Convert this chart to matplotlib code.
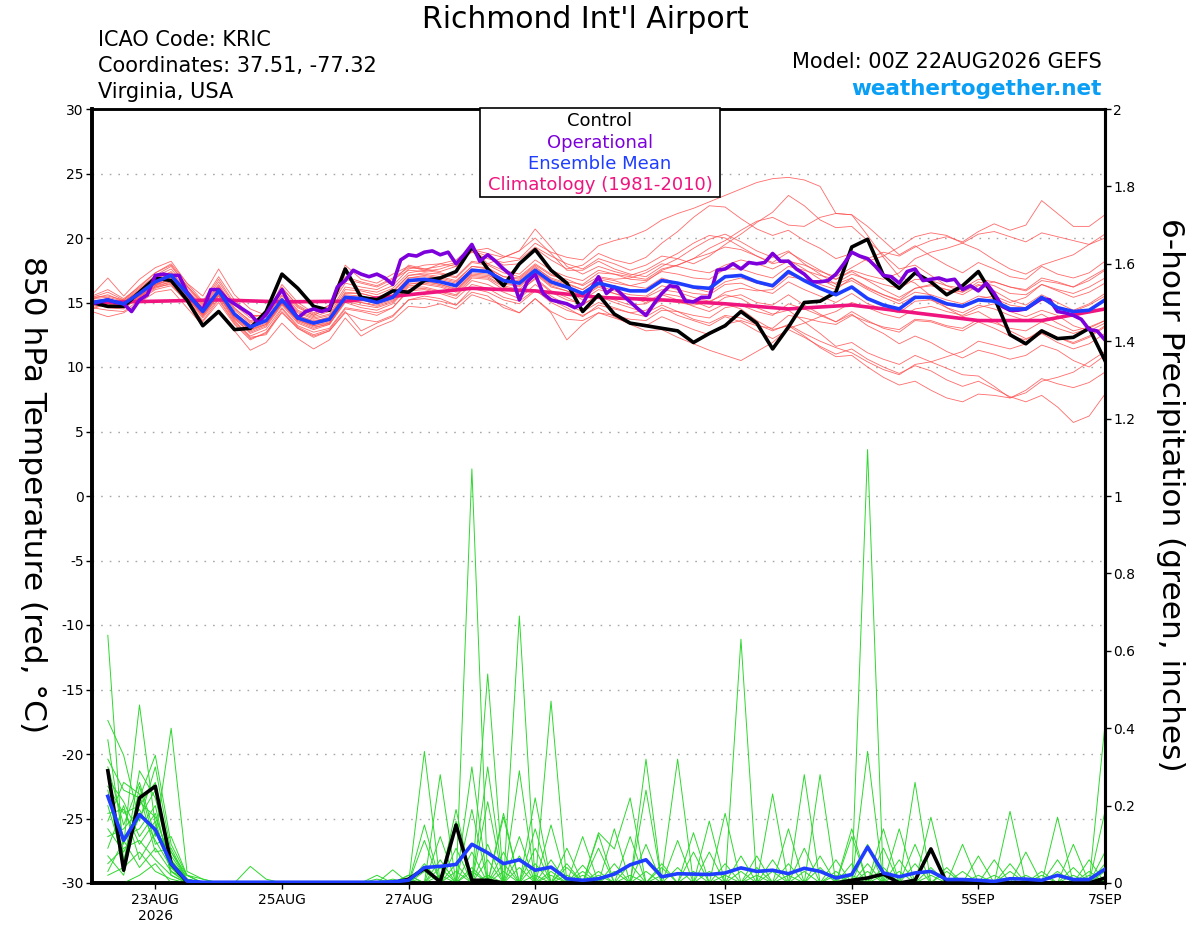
import matplotlib
matplotlib.use("Agg")
import matplotlib.pyplot as plt
from matplotlib.patches import Rectangle

plt.rcParams['font.family'] = ['DejaVu Sans']
plt.rcParams['axes.unicode_minus'] = False

# ---------------------------------------------------------------------------
# Data (temperature: 6-hourly from 22AUG 00Z; precip: 6-hourly from 22AUG 06Z)
# ---------------------------------------------------------------------------
tick_days = [1, 3, 5, 7, 10, 12, 14, 16]
tick_labels = ["23AUG\n2026", "25AUG", "27AUG", "29AUG", "1SEP", "3SEP", "5SEP", "7SEP"]

control_temp = [15.0, 14.7, 14.7, 15.8, 16.9, 16.7, 15.2, 13.2, 14.3, 12.9, 13.0, 14.3, 17.2, 16.1, 14.7, 14.4,
                17.6, 15.4, 15.2, 15.9, 15.8, 16.7, 16.9, 17.4, 19.3, 17.6, 16.3, 18.0, 19.1, 17.5, 16.5, 14.3,
                15.6, 14.1, 13.4, 13.2, 13.0, 12.8, 11.9, 12.6, 13.2, 14.3, 13.4, 11.4, 13.1, 15.0, 15.1, 15.8,
                19.3, 19.9, 17.1, 16.1, 17.3, 16.6, 15.6, 16.3, 17.4, 15.4, 12.5, 11.8, 12.8, 12.2, 12.3, 13.0,
                10.5]

mean_temp = [15.0, 15.2, 14.9, 15.7, 16.6, 17.1, 15.7, 14.3, 15.9, 14.1, 13.1, 13.6, 15.2, 13.8, 13.4, 13.7,
             15.4, 15.3, 15.0, 15.4, 16.7, 16.8, 16.6, 16.3, 17.5, 17.4, 16.7, 16.5, 17.5, 16.6, 16.2, 15.7,
             16.5, 16.2, 15.9, 15.9, 16.7, 16.5, 16.2, 16.1, 17.0, 17.1, 16.6, 16.3, 17.4, 16.7, 16.1, 15.6,
             16.2, 15.3, 14.8, 14.5, 15.4, 15.4, 14.9, 14.7, 15.2, 15.1, 14.5, 14.5, 15.4, 14.6, 14.3, 14.4,
             15.2]

# operational run is 3-hourly
oper_temp = [14.9, 15.05, 15.2, 15.0, 14.9, 14.3, 15.2, 15.6, 17.1, 17.2, 17.1, 17.1, 15.8, 15.05, 14.4, 16.0,
             16.0, 15.3, 14.9, 14.5, 14.1, 13.4, 14.1, 15.05, 16.0, 14.8, 13.8, 14.3, 14.5, 14.3, 14.5, 16.2,
             16.7, 17.5, 17.2, 17.0, 17.2, 16.9, 16.4, 18.3, 18.7, 18.6, 18.9, 19.0, 18.7, 18.9, 18.0, 18.7,
             19.5, 18.2, 18.7, 18.2, 17.6, 17.1, 15.2, 16.6, 17.2, 15.7, 15.2, 15.05, 14.9, 14.6, 14.9, 16.0,
             17.0, 15.7, 16.2, 15.6, 15.05, 14.5, 14.0, 14.9, 15.7, 16.3, 16.2, 15.1, 15.05, 15.4, 15.4, 17.5,
             17.6, 18.0, 17.6, 18.1, 18.0, 18.1, 18.8, 18.2, 18.2, 17.6, 17.2, 16.6, 16.6, 16.7, 17.2, 18.0,
             18.9, 18.6, 18.4, 17.8, 17.1, 17.0, 16.5, 17.4, 17.6, 16.7, 16.8, 16.9, 16.7, 16.8, 16.0, 16.3,
             15.9, 16.5, 15.7, 14.7, 14.4, 14.4, 14.5, 14.9, 15.3, 15.2, 14.3, 14.2, 14.0, 13.7, 12.9, 12.8,
             12.1]

# climatology, daily at 00Z
clim_temp = [15.0, 15.1, 15.2, 15.05, 15.1, 15.6, 16.1, 15.9, 15.4, 15.2, 14.9, 14.5, 14.8, 14.2, 13.6, 13.6, 14.5]

member_temp = [
    [15.3, 15.6, 15.1, 16.0, 17.0, 17.6, 16.2, 14.8, 16.4, 14.6, 13.5, 14.0, 15.8, 14.4, 13.9, 14.3,
     16.2, 16.0, 15.8, 16.3, 17.6, 17.9, 18.0, 17.8, 19.0, 19.2, 18.6, 18.4, 19.6, 18.9, 18.5, 18.3,
     19.4, 19.8, 20.1, 20.6, 21.4, 21.9, 22.3, 22.8, 23.3, 23.8, 24.3, 24.6, 24.7, 24.5, 24.0, 21.9,
     21.8, 20.9, 19.8, 18.7, 19.4, 18.6, 17.9, 17.3, 18.1, 17.6, 17.0, 16.8, 17.8, 17.2, 16.9, 17.3, 18.2],
    [14.6, 14.4, 14.3, 15.2, 16.0, 16.3, 15.1, 13.6, 15.2, 13.4, 12.2, 12.6, 14.5, 13.1, 12.5, 12.9,
     14.5, 14.3, 14.0, 14.6, 16.0, 16.1, 15.8, 15.5, 16.7, 16.4, 15.8, 15.3, 16.4, 15.5, 14.8, 14.3,
     15.0, 14.6, 14.2, 13.9, 14.6, 14.0, 13.6, 13.2, 13.9, 13.5, 12.8, 12.2, 12.9, 12.3, 11.6, 11.0,
     11.4, 10.6, 10.0, 9.5, 10.1, 9.7, 9.0, 8.5, 8.9, 8.3, 7.7, 7.3, 7.8, 6.9, 5.7, 6.2, 7.9],
    [15.0, 14.7, 14.6, 15.4, 16.3, 16.9, 15.4, 13.9, 15.5, 13.8, 12.6, 13.1, 14.8, 13.4, 12.9, 13.3,
     15.0, 14.6, 14.4, 14.9, 16.2, 16.2, 15.9, 15.6, 16.9, 16.8, 16.0, 15.8, 16.9, 15.9, 15.4, 14.8,
     15.6, 15.2, 14.8, 14.9, 15.6, 15.2, 14.7, 14.3, 14.9, 14.5, 13.6, 12.9, 13.2, 12.4, 11.5, 10.8,
     10.9, 10.0, 9.2, 8.6, 8.9, 8.2, 7.6, 7.3, 7.9, 7.8, 7.6, 8.0, 8.9, 9.2, 9.6, 10.4, 11.2],
    [14.8, 15.0, 14.6, 15.3, 16.2, 16.6, 15.3, 14.0, 15.6, 13.7, 12.7, 13.2, 14.9, 13.6, 13.1, 13.3,
     15.1, 15.0, 14.7, 15.1, 16.4, 16.6, 16.4, 16.0, 17.1, 17.0, 16.3, 16.0, 17.2, 16.2, 15.9, 15.2,
     16.0, 15.7, 15.3, 15.4, 16.0, 15.8, 15.4, 15.1, 15.6, 15.3, 14.6, 14.1, 14.4, 13.5, 12.6, 11.6,
     11.9, 11.1, 10.6, 10.2, 10.9, 10.4, 9.9, 9.4, 9.3, 8.5, 7.6, 8.2, 9.1, 8.7, 8.4, 8.8, 9.6],
    [15.4, 15.5, 15.2, 16.1, 17.1, 17.8, 16.3, 14.9, 16.6, 14.8, 13.8, 14.1, 15.9, 14.6, 14.0, 14.6,
     16.5, 16.2, 16.0, 16.6, 17.9, 17.6, 17.4, 17.8, 19.0, 18.6, 17.9, 18.0, 19.2, 18.3, 17.6, 17.9,
     18.8, 18.3, 18.0, 18.5, 19.6, 20.5, 21.6, 22.5, 22.4, 21.5, 20.7, 20.2, 20.6, 19.8, 19.2, 18.4,
     18.8, 18.2, 18.6, 19.3, 20.1, 20.4, 20.2, 19.6, 19.1, 18.3, 17.6, 17.2, 17.9, 18.3, 18.7, 19.5, 20.3],
    [15.1, 15.3, 14.8, 15.6, 16.4, 17.0, 15.6, 14.4, 15.8, 14.2, 13.3, 13.6, 15.3, 14.0, 13.5, 13.9,
     15.8, 15.7, 15.4, 15.9, 17.1, 17.2, 17.0, 16.7, 17.8, 17.6, 17.0, 16.9, 17.9, 17.1, 16.8, 16.3,
     17.0, 16.8, 16.9, 17.3, 18.0, 17.8, 17.5, 17.3, 17.9, 18.3, 18.0, 17.6, 18.2, 17.9, 17.4, 17.0,
     17.7, 18.4, 18.9, 18.6, 19.3, 19.8, 20.1, 19.7, 20.5, 21.1, 20.6, 21.0, 22.9, 21.9, 20.9, 20.9, 21.8],
    [15.2, 15.0, 15.0, 15.9, 16.9, 17.3, 15.9, 14.6, 16.2, 14.4, 13.4, 13.9, 15.5, 14.2, 13.7, 14.0,
     15.7, 15.7, 15.4, 15.8, 17.1, 17.3, 17.2, 16.9, 18.1, 17.9, 17.3, 17.0, 18.0, 17.2, 16.6, 16.4,
     17.3, 17.2, 17.0, 16.8, 17.6, 17.9, 18.4, 18.8, 19.3, 19.1, 18.6, 18.1, 18.9, 18.2, 17.5, 16.8,
     17.4, 16.7, 16.0, 15.4, 16.1, 16.3, 16.0, 15.6, 16.3, 16.6, 16.2, 15.9, 16.7, 16.5, 16.2, 16.9, 17.6],
    [14.9, 14.8, 14.7, 15.3, 16.1, 16.5, 15.2, 13.8, 15.3, 13.5, 12.4, 12.9, 14.6, 13.2, 12.7, 13.0,
     14.6, 14.4, 14.2, 14.6, 15.9, 16.0, 15.7, 15.3, 16.4, 16.1, 15.4, 15.1, 16.0, 15.0, 14.4, 14.0,
     14.6, 13.9, 13.3, 12.8, 12.9, 12.3, 11.8, 11.3, 10.9, 10.5, 11.2, 11.9, 13.0, 13.4, 13.9, 14.3,
     15.0, 14.6, 14.1, 13.8, 14.5, 14.7, 14.3, 14.0, 14.6, 14.9, 14.3, 13.9, 14.4, 14.0, 13.2, 12.8, 13.4],
    [15.5, 16.0, 15.3, 16.2, 17.3, 18.0, 16.5, 15.1, 17.0, 15.2, 14.0, 14.0, 16.1, 14.8, 14.1, 14.8,
     17.0, 16.6, 16.3, 16.9, 17.7, 17.6, 17.8, 18.1, 18.9, 18.4, 18.1, 18.3, 19.3, 18.6, 18.0, 17.6,
     18.4, 18.0, 17.5, 17.9, 18.6, 18.4, 18.0, 18.6, 19.5, 20.3, 21.2, 22.0, 23.3, 22.5, 21.4, 20.8,
     20.9, 19.8, 18.7, 17.6, 17.9, 17.1, 16.3, 15.8, 16.4, 15.9, 15.2, 14.8, 15.6, 15.0, 14.4, 14.9, 15.7],
    [14.7, 15.1, 14.8, 15.5, 16.4, 16.8, 15.5, 14.1, 15.7, 13.9, 12.8, 13.3, 14.9, 13.6, 13.2, 13.4,
     15.2, 15.0, 14.8, 15.2, 16.5, 16.5, 16.3, 15.9, 17.2, 17.1, 16.6, 16.2, 17.3, 16.3, 15.9, 15.4,
     16.2, 15.7, 15.4, 15.0, 15.7, 15.5, 15.1, 14.6, 15.4, 15.6, 15.0, 14.8, 15.6, 14.8, 14.1, 13.5,
     14.1, 13.2, 12.6, 11.8, 12.4, 11.9, 11.2, 10.7, 11.3, 11.0, 10.6, 10.9, 11.7, 11.3, 10.5, 10.0, 10.9],
    [15.0, 15.3, 14.9, 15.8, 16.8, 17.2, 15.8, 14.4, 16.0, 14.0, 13.0, 13.5, 15.1, 13.7, 13.2, 13.5,
     15.3, 15.2, 14.9, 15.3, 16.6, 16.7, 16.4, 16.1, 17.3, 17.2, 16.4, 16.3, 17.3, 16.4, 16.1, 15.5,
     16.3, 15.9, 15.6, 15.5, 16.3, 16.0, 15.7, 15.6, 16.4, 16.5, 16.0, 15.7, 16.6, 16.0, 15.5, 15.0,
     15.7, 14.9, 14.5, 14.2, 15.1, 15.2, 14.8, 14.6, 15.3, 15.5, 15.0, 15.4, 16.4, 16.0, 15.7, 16.2, 16.9],
    [15.3, 15.4, 15.1, 15.9, 16.8, 17.4, 16.0, 14.7, 16.3, 14.5, 13.6, 13.9, 15.6, 14.3, 13.8, 14.1,
     16.0, 15.9, 15.6, 16.1, 17.3, 17.5, 17.3, 17.0, 18.2, 18.0, 17.5, 17.2, 18.3, 17.5, 17.0, 16.7,
     17.5, 17.2, 16.8, 16.7, 17.4, 17.2, 16.9, 16.8, 17.6, 17.6, 17.2, 16.9, 17.8, 17.5, 17.1, 16.8,
     17.5, 17.1, 16.8, 17.3, 18.4, 18.9, 19.2, 19.6, 20.3, 20.5, 20.1, 19.7, 20.4, 20.1, 19.8, 19.5, 20.0],
    [14.3, 13.9, 14.2, 15.0, 15.8, 16.0, 14.6, 13.2, 14.4, 12.8, 11.3, 11.9, 13.4, 12.2, 11.4, 12.1,
     13.8, 12.4, 13.1, 13.6, 14.7, 14.6, 14.9, 14.5, 15.6, 15.2, 14.8, 14.2, 15.3, 14.3, 13.7, 13.6,
     14.2, 14.0, 13.7, 13.6, 14.4, 14.3, 14.0, 13.8, 14.6, 14.8, 14.3, 14.0, 14.9, 14.5, 14.0, 13.5,
     14.3, 13.6, 13.0, 12.7, 13.6, 13.5, 13.1, 12.8, 13.5, 13.0, 12.4, 12.1, 12.9, 12.3, 11.8, 12.3, 13.1],
    [15.6, 16.9, 15.5, 16.8, 17.7, 18.2, 16.5, 15.5, 17.6, 15.6, 14.5, 14.0, 16.4, 15.0, 14.2, 14.8,
     17.9, 16.8, 16.5, 17.2, 17.8, 17.5, 18.0, 18.3, 19.3, 18.0, 18.5, 19.0, 20.0, 18.8, 17.5, 17.5,
     18.2, 17.6, 17.2, 17.0, 17.8, 18.4, 19.2, 19.9, 20.3, 19.7, 19.0, 18.5, 19.0, 18.0, 17.2, 16.4,
     16.9, 16.2, 15.6, 15.1, 15.8, 15.6, 15.2, 14.9, 15.5, 15.3, 14.8, 14.6, 15.2, 14.7, 14.3, 14.8, 15.5],
    [15.2, 15.1, 15.0, 15.6, 16.5, 17.0, 15.7, 14.2, 15.8, 14.0, 12.9, 13.4, 15.0, 13.7, 13.3, 13.6,
     15.5, 15.4, 15.1, 15.6, 16.9, 17.0, 16.8, 16.5, 17.6, 17.5, 16.8, 16.7, 17.7, 16.9, 16.5, 16.0,
     16.8, 16.5, 16.3, 16.6, 17.5, 17.9, 18.4, 19.2, 19.8, 20.6, 21.3, 21.6, 21.0, 20.9, 21.6, 21.9,
     21.8, 20.2, 18.5, 17.0, 16.5, 15.5, 14.6, 13.9, 14.3, 13.6, 12.8, 12.2, 12.6, 11.9, 11.4, 11.8, 12.6],
    [14.9, 14.6, 14.5, 15.5, 16.4, 16.7, 15.4, 14.1, 15.6, 13.8, 12.9, 13.3, 15.0, 13.5, 13.0, 13.4,
     15.1, 14.8, 14.6, 15.0, 16.3, 16.4, 16.2, 15.8, 17.0, 16.9, 16.2, 15.9, 16.8, 15.8, 15.2, 14.9,
     15.5, 15.0, 14.6, 14.2, 14.8, 14.3, 13.7, 13.4, 14.0, 13.8, 13.3, 12.8, 13.3, 12.6, 12.0, 11.5,
     11.1, 10.4, 9.8, 9.4, 10.2, 10.4, 10.8, 11.2, 12.0, 11.7, 11.4, 11.8, 12.6, 12.3, 11.9, 12.4, 13.2],
    [15.1, 15.2, 15.0, 15.8, 16.7, 17.2, 15.8, 14.5, 16.0, 14.2, 13.2, 13.7, 15.3, 14.0, 13.6, 13.8,
     15.6, 15.5, 15.2, 15.6, 16.9, 17.1, 16.9, 16.6, 17.8, 17.7, 17.0, 16.8, 17.8, 16.8, 16.4, 16.0,
     16.9, 16.7, 16.3, 16.1, 16.9, 16.5, 16.1, 15.8, 16.6, 16.9, 16.5, 16.2, 17.2, 16.8, 16.4, 16.0,
     16.9, 16.1, 15.6, 15.2, 16.1, 16.4, 16.0, 15.8, 16.6, 16.3, 15.7, 15.6, 16.4, 15.9, 15.4, 15.8, 16.5],
    [14.5, 14.9, 14.6, 15.4, 16.3, 16.6, 15.5, 14.0, 15.5, 13.6, 12.3, 12.5, 14.3, 13.0, 12.4, 12.8,
     14.3, 12.8, 13.4, 13.9, 15.2, 15.3, 15.1, 14.8, 16.1, 15.8, 15.2, 14.9, 15.9, 15.2, 14.6, 13.9,
     14.8, 14.5, 14.2, 14.4, 15.2, 15.0, 14.8, 15.0, 15.8, 16.1, 15.9, 16.0, 17.0, 16.8, 16.6, 16.5,
     17.2, 16.8, 16.4, 16.1, 16.8, 16.7, 16.3, 16.1, 16.8, 16.6, 16.2, 16.0, 16.9, 16.6, 16.2, 16.7, 17.5],
    [15.4, 15.8, 15.2, 16.3, 17.3, 17.9, 16.3, 15.0, 16.8, 14.9, 14.0, 14.0, 16.2, 14.7, 14.0, 14.6,
     16.8, 16.5, 16.2, 16.8, 17.5, 17.4, 17.6, 18.0, 19.1, 18.8, 18.5, 19.0, 20.7, 19.3, 17.8, 17.2,
     17.8, 17.4, 17.1, 17.5, 18.2, 18.8, 19.6, 20.2, 20.0, 19.3, 18.6, 18.0, 18.3, 17.6, 16.8, 16.2,
     16.7, 16.0, 15.4, 14.9, 15.5, 15.2, 14.6, 14.2, 14.8, 14.5, 14.0, 13.6, 14.1, 13.4, 12.8, 13.1, 13.6],
    [14.6, 14.9, 14.8, 15.5, 16.2, 16.4, 15.0, 13.5, 15.0, 13.3, 12.1, 12.7, 14.2, 13.0, 12.3, 12.8,
     14.2, 13.7, 13.5, 14.0, 15.2, 15.5, 15.3, 14.8, 15.8, 15.5, 14.6, 14.2, 15.3, 14.2, 12.1, 13.3,
     14.2, 13.8, 13.4, 13.2, 13.9, 13.4, 12.9, 12.5, 13.3, 13.6, 13.2, 13.0, 14.0, 13.8, 13.5, 13.3,
     14.0, 13.5, 13.1, 12.9, 13.7, 13.6, 13.2, 13.0, 13.7, 13.4, 13.0, 12.8, 13.5, 13.0, 12.6, 13.0, 13.6],
]

control_precip = [0.29, 0.033, 0.22, 0.25, 0.05, 0.003, 0, 0, 0, 0, 0, 0, 0, 0, 0, 0,
                  0, 0, 0, 0.01, 0.037, 0.003, 0.15, 0.007, 0.007, 0, 0, 0, 0, 0, 0, 0,
                  0, 0, 0, 0, 0, 0, 0, 0, 0, 0, 0, 0, 0, 0, 0, 0.007,
                  0.013, 0.023, 0, 0.007, 0.088, 0, 0, 0, 0, 0, 0, 0, 0, 0, 0, 0.013]

mean_precip = [0.224, 0.11, 0.177, 0.138, 0.05, 0.005, 0.002, 0.002, 0.002, 0.002, 0.002, 0.002, 0.002, 0.002, 0.002, 0.002,
               0.002, 0.002, 0.003, 0.007, 0.04, 0.043, 0.048, 0.10, 0.078, 0.05, 0.06, 0.033, 0.041, 0.011, 0.007, 0.011,
               0.023, 0.047, 0.06, 0.016, 0.024, 0.023, 0.022, 0.026, 0.039, 0.03, 0.033, 0.024, 0.038, 0.03, 0.013, 0.022,
               0.093, 0.026, 0.016, 0.026, 0.03, 0.009, 0.009, 0.007, 0.004, 0.011, 0.01, 0.007, 0.02, 0.009, 0.009, 0.036]

member_precip = [
    [.64, .05, .29, .22, .05, .01, 0, 0, 0, 0, 0, 0, 0, 0, 0, 0,
     0, 0, 0, 0, 0, .02, 0, 1.07, 0, 0, .04, 0, 0, 0, .046, 0,
     0, 0, .03, 0, 0, 0, 0, .05, 0, 0, 0, 0, 0, 0, .06, 0,
     0, 0, 0, .10, 0, 0, 0, 0, 0, 0, 0, .02, 0, 0, 0, 0],
    [.42, .33, .16, .30, .08, .02, 0, 0, 0, 0, 0, 0, 0, 0, 0, 0,
     0, 0, 0, .02, 0, 0, .19, 0, 0, 0, .29, 0, 0, 0, 0, .03,
     0, 0, 0, 0, .04, 0, 0, 0, 0, 0, .23, 0, 0, 0, 0, 0,
     .03, 0, 0, 0, 0, 0, .10, 0, 0, 0, 0, 0, 0, 0, .02, 0],
    [.37, .10, .46, .15, .03, 0, 0, 0, 0, 0, 0, 0, 0, 0, 0, 0,
     0, 0, 0, 0, .34, 0, 0, 0, .30, 0, 0, 0, .06, 0, 0, 0,
     .14, 0, 0, 0, 0, 0, .08, 0, 0, 0, 0, 0, .03, 0, 0, 0,
     0, .04, 0, 0, 0, 0, 0, 0, .02, 0, 0, 0, 0, 0, 0, .41],
    [.32, .24, .22, .33, .10, .02, 0, 0, 0, 0, 0, 0, 0, 0, 0, 0,
     0, .01, 0, 0, 0, 0, .03, 0, 0, .18, 0, 0, 0, .02, 0, 0,
     0, 0, 0, .05, 0, 0, 0, 0, .07, 0, 0, 0, 0, 0, 0, .02,
     0, 0, .06, 0, 0, 0, 0, 0, 0, 0, .08, 0, 0, 0, 0, 0],
    [.30, .15, .26, .12, .40, .03, .01, 0, 0, 0, 0, 0, 0, 0, 0, 0,
     0, 0, 0, 0, 0, .28, 0, 0, 0, .03, 0, 0, 0, .09, 0, 0,
     0, .02, 0, 0, 0, 0, 0, 0, 0, .04, 0, 0, 0, 0, 0, .12,
     0, 0, 0, 0, 0, .04, 0, 0, 0, 0, 0, 0, 0, 0, .06, 0],
    [.27, .21, .12, .18, .04, 0, 0, 0, 0, 0, 0, 0, 0, 0, 0, 0,
     0, 0, .034, 0, 0, 0, 0, .30, 0, 0, 0, .02, 0, 0, 0, .09,
     0, 0, 0, 0, 0, .13, 0, 0, 0, 0, 0, 0, 0, .07, 0, 0,
     0, 0, 0, 0, .17, 0, 0, 0, 0, 0, 0, 0, 0, .04, 0, 0],
    [.25, .18, .20, .26, .06, .01, 0, 0, 0, 0, 0, 0, 0, 0, 0, 0,
     0, 0, 0, 0, .15, 0, 0, 0, .10, 0, .69, 0, 0, 0, .03, 0,
     0, 0, 0, 0, .11, 0, 0, 0, 0, 0, 0, .14, 0, 0, 0, 0,
     .05, 0, 0, 0, 0, 0, 0, .07, 0, 0, 0, 0, 0, 0, 0, .08],
    [.24, .03, .25, .10, .12, .02, 0, 0, 0, .043, .01, 0, 0, 0, 0, 0,
     0, .02, 0, 0, 0, 0, .16, 0, 0, 0, 0, .14, 0, 0, 0, 0,
     .05, 0, 0, 0, 0, 0, 0, .18, 0, 0, 0, 0, 0, 0, .02, 0,
     0, 0, .14, 0, 0, 0, 0, 0, 0, 0, 0, .03, 0, 0, 0, 0],
    [.22, .12, .14, .20, .02, 0, 0, 0, 0, 0, 0, 0, 0, 0, 0, 0,
     0, 0, 0, .01, 0, 0, 0, 0, .54, 0, 0, 0, 0, .05, 0, 0,
     0, 0, 0, .04, 0, 0, 0, 0, 0, 0, .03, 0, 0, 0, 0, 0,
     0, .14, 0, 0, 0, 0, 0, 0, 0, .05, 0, 0, 0, 0, 0, 0],
    [.20, .06, .18, .14, .07, .01, 0, 0, 0, 0, 0, 0, 0, 0, 0, 0,
     0, 0, 0, 0, 0, .12, 0, 0, 0, .17, 0, 0, .47, 0, 0, 0,
     0, .05, 0, 0, 0, 0, 0, 0, .03, 0, 0, 0, 0, 0, 0, .14,
     0, 0, 0, 0, .02, 0, 0, 0, 0, 0, 0, 0, .03, 0, 0, 0],
    [.18, .19, .10, .16, .03, 0, 0, 0, 0, 0, 0, 0, 0, 0, 0, 0,
     0, 0, .01, 0, 0, 0, 0, .19, 0, 0, .12, 0, 0, 0, .02, 0,
     0, 0, 0, 0, 0, .08, 0, 0, 0, 0, 0, .05, 0, 0, 0, 0,
     1.12, 0, 0, 0, 0, 0, 0, .02, 0, 0, 0, 0, 0, 0, 0, .05],
    [.16, .26, .23, .08, .09, .01, 0, 0, 0, 0, 0, 0, 0, 0, 0, 0,
     0, 0, 0, 0, .11, 0, 0, 0, .21, 0, 0, 0, .03, 0, 0, .13,
     .088, .22, 0, 0, 0, 0, 0, .02, 0, 0, 0, 0, 0, .04, 0, 0,
     0, 0, 0, .26, 0, 0, 0, 0, 0, 0, 0, 0, .06, 0, 0, 0],
    [.14, .08, .17, .24, .05, .02, .01, 0, 0, 0, 0, 0, 0, 0, 0, 0,
     0, 0, 0, .02, 0, 0, 0, .08, 0, 0, 0, .22, 0, 0, 0, 0,
     0, .12, 0, 0, 0, 0, 0, 0, .63, 0, 0, 0, 0, 0, 0, .05,
     0, 0, 0, 0, .04, 0, 0, 0, 0, 0, 0, 0, 0, .02, 0, 0],
    [.12, .14, .19, .11, .04, 0, 0, 0, 0, 0, 0, 0, 0, 0, 0, 0,
     0, 0, 0, 0, 0, .06, 0, 0, .02, 0, 0, 0, .15, 0, 0, 0,
     0, 0, .24, 0, 0, 0, 0, 0, 0, .07, 0, 0, 0, 0, 0, 0,
     .10, 0, 0, 0, 0, .03, 0, 0, 0, 0, 0, 0, 0, .10, 0, 0],
    [.09, .20, .06, .13, .08, .01, 0, 0, 0, 0, 0, 0, 0, 0, 0, 0,
     0, 0, 0, 0, .05, 0, 0, .03, 0, 0, 0, .09, 0, 0, 0, .02,
     0, 0, .32, 0, 0, 0, 0, 0, 0, 0, .06, 0, 0, 0, 0, 0,
     0, .09, 0, 0, 0, 0, 0, 0, .06, 0, 0, 0, 0, 0, 0, .185],
    [.07, .02, .21, .17, .06, 0, 0, 0, 0, 0, 0, 0, 0, 0, 0, 0,
     0, 0, 0, 0, 0, 0, .09, 0, 0, .08, 0, 0, 0, 0, .12, 0,
     0, 0, 0, 0, 0, 0, .03, 0, 0, 0, 0, 0, .28, 0, 0, 0,
     0, .02, 0, 0, 0, 0, 0, 0, 0, .03, 0, 0, 0, 0, 0, 0],
    [.05, .09, .11, .06, .02, 0, 0, 0, 0, 0, 0, 0, 0, 0, 0, 0,
     0, 0, 0, 0, 0, .04, 0, 0, 0, .05, 0, 0, .02, 0, 0, 0,
     0, 0, .10, 0, 0, 0, 0, 0, 0, .02, 0, 0, 0, .28, 0, 0,
     0, 0, 0, 0, .09, 0, 0, 0, 0, 0, 0, 0, .17, 0, 0, 0],
    [.03, .11, .04, .09, .03, .01, 0, 0, 0, 0, 0, 0, 0, 0, 0, 0,
     0, 0, 0, 0, .03, 0, 0, 0, .06, 0, 0, 0, 0, .04, 0, 0,
     0, 0, 0, .02, .32, 0, 0, 0, 0, 0, 0, 0, 0, 0, .03, 0,
     0, 0, .03, 0, 0, 0, 0, 0, 0, 0, .02, 0, 0, 0, 0, 0],
    [.02, .04, .08, .03, .01, 0, 0, 0, 0, 0, 0, 0, 0, 0, 0, 0,
     0, 0, 0, 0, 0, 0, .05, 0, 0, 0, .07, 0, 0, 0, 0, .125,
     0, 0, 0, 0, 0, .03, 0, 0, 0, 0, 0, 0, .09, 0, 0, 0,
     0, 0, 0, .05, 0, 0, 0, 0, 0, .185, 0, 0, 0, 0, 0, .03],
    [0, 0, .02, .05, 0, 0, 0, 0, 0, 0, 0, 0, 0, 0, 0, 0,
     0, 0, 0, 0, 0, 0, 0, .04, 0, 0, 0, .05, 0, 0, 0, 0,
     .03, 0, 0, 0, 0, 0, .16, 0, 0, 0, 0, .02, 0, 0, 0, 0,
     .34, 0, 0, 0, 0, 0, .03, 0, 0, 0, 0, 0, 0, 0, .03, 0],
]

# time axes in days since 22AUG 00Z
t_temp = [i * 0.25 for i in range(len(mean_temp))]
t_oper = [j * 0.125 for j in range(len(oper_temp))]
t_clim = [float(d) for d in range(len(clim_temp))]
t_prcp = [(k + 1) * 0.25 for k in range(len(mean_precip))]

# ---------------------------------------------------------------------------
# Figure
# ---------------------------------------------------------------------------
fig = plt.figure(figsize=(12, 9.27), dpi=100)
ax = fig.add_axes([92 / 1200, 44 / 927, 1013 / 1200, 774 / 927])
ax2 = ax.twinx()

C_RED = "#ff5050"
C_GREEN = "#2ed82e"
C_PURPLE = "#7d00dc"
C_BLUE = "#1f3dff"
C_PINK = "#f0147f"

for m in member_temp:
    ax.plot(t_temp, m, color=C_RED, lw=0.6, alpha=0.85, zorder=2)
ax.plot(t_clim, clim_temp, color=C_PINK, lw=2.6, zorder=3)
ax.plot(t_temp, control_temp, color="black", lw=2.6, zorder=4)
ax.plot(t_oper, oper_temp, color=C_PURPLE, lw=2.6, zorder=5)
ax.plot(t_temp, mean_temp, color=C_BLUE, lw=2.6, zorder=6)

for m in member_precip:
    ax2.plot(t_prcp, m, color=C_GREEN, lw=0.7, zorder=2)
ax2.plot(t_prcp, control_precip, color="black", lw=2.6, zorder=4)
ax2.plot(t_prcp, mean_precip, color=C_BLUE, lw=2.6, zorder=5)

ax.set_xlim(0, 16)
ax.set_ylim(-30, 30)
ax2.set_ylim(0, 2)
ax.set_yticks(range(-30, 31, 5))
ax2.set_yticks([0, 0.2, 0.4, 0.6, 0.8, 1, 1.2, 1.4, 1.6, 1.8, 2])
ax2.set_yticklabels(["0", "0.2", "0.4", "0.6", "0.8", "1", "1.2", "1.4", "1.6", "1.8", "2"])
ax.set_xticks(tick_days)
ax.set_xticklabels(tick_labels)

for y in range(-25, 30, 5):
    ax.axhline(y, color="#a8a8a8", lw=1.0, ls=(0, (1.2, 5)), zorder=1)

for a in (ax, ax2):
    a.tick_params(direction="out", length=4, width=1, labelsize=10, pad=2)
    a.spines["left"].set_linewidth(2.6)
    a.spines["bottom"].set_linewidth(2.6)
    a.spines["right"].set_linewidth(2.2)
    a.spines["top"].set_linewidth(1.8)
ax.tick_params(axis="x", pad=3)

# Legend box (text only, coloured)
fig.patches.append(Rectangle((480 / 1200, 1 - 197 / 927), 240 / 1200, 89 / 927,
                             transform=fig.transFigure, facecolor="white",
                             edgecolor="black", lw=1.2, zorder=10))
leg = [("Control", "black"), ("Operational", C_PURPLE),
       ("Ensemble Mean", C_BLUE), ("Climatology (1981-2010)", C_PINK)]
for n, (txt, col) in enumerate(leg):
    fig.text(600 / 1200, 1 - (121 + n * 21.5) / 927, txt, color=col, fontsize=13,
             ha="center", va="center", zorder=11)

# Titles and header text
fig.text(585 / 1200, 1 - 19 / 927, "Richmond Int'l Airport", fontsize=21.5, ha="center", va="center")
fig.text(98 / 1200, 1 - 40 / 927, "ICAO Code: KRIC", fontsize=15, ha="left", va="center")
fig.text(98 / 1200, 1 - 66 / 927, "Coordinates: 37.51, -77.32", fontsize=15, ha="left", va="center")
fig.text(98 / 1200, 1 - 92 / 927, "Virginia, USA", fontsize=15, ha="left", va="center")
fig.text(1102 / 1200, 1 - 62 / 927, "Model: 00Z 22AUG2026 GEFS", fontsize=15, ha="right", va="center")
fig.text(1102 / 1200, 1 - 89 / 927, "weathertogether.net", fontsize=15.5, fontweight="bold",
         color="#0a9ff5", ha="right", va="center")

fig.text(32 / 1200, 1 - 495 / 927, "850 hPa Temperature (red, °C)", fontsize=22.5,
         rotation=270, ha="center", va="center")
fig.text(1170 / 1200, 1 - 495 / 927, "6-hour Precipitation (green, inches)", fontsize=22.5,
         rotation=270, ha="center", va="center")

fig.savefig("out.png", dpi=100)
